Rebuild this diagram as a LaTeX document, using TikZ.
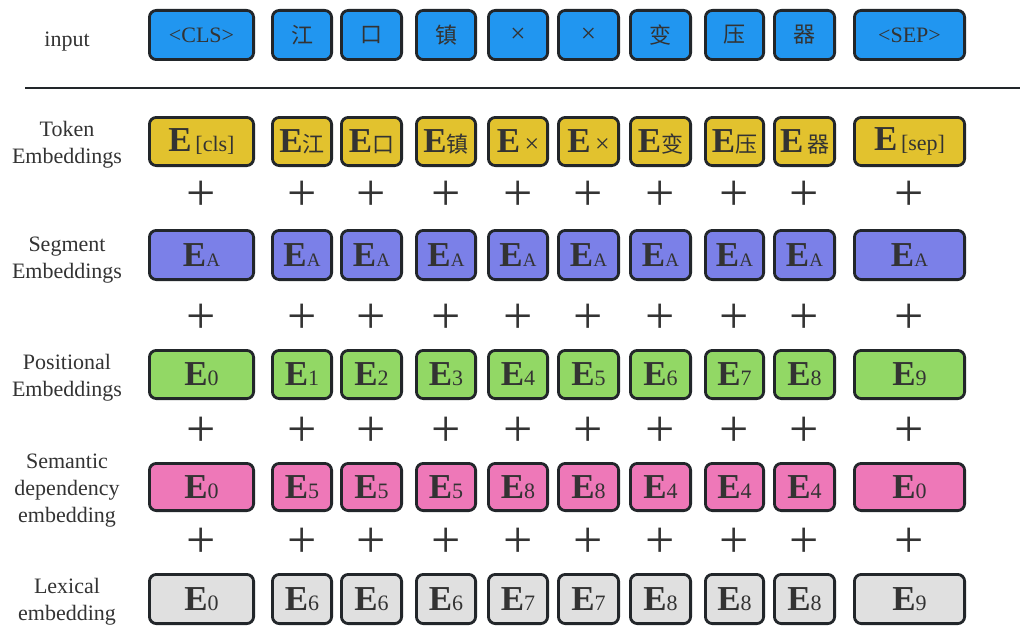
\documentclass[tikz,border=0pt]{standalone}
\usepackage{fontspec}
\setmainfont{Liberation Serif}
\newfontfamily\cjk{Noto Sans CJK SC}
\definecolor{cblue}{HTML}{2196F0}
\definecolor{cyellow}{HTML}{E2C22E}
\definecolor{cpurple}{HTML}{7B80E8}
\definecolor{cgreen}{HTML}{92D865}
\definecolor{cpink}{HTML}{EE78B8}
\definecolor{cgray}{HTML}{E0E0E0}
\definecolor{cborder}{HTML}{22262A}
\definecolor{ctext}{HTML}{333333}
\newcommand{\Ecell}[2][22]{{\fontsize{35}{35}\selectfont\textbf{E}}{\fontsize{#1}{#1}\selectfont #2}}
\begin{document}
\begin{tikzpicture}[x=1pt,y=-1pt,
  box/.style={draw=cborder, line width=2.8pt, rounded corners=7pt, inner sep=0pt, text=ctext, font=\fontsize{22}{22}\selectfont},
  rowlabel/.style={align=center, text=ctext, font=\fontsize{22}{27}\selectfont},
  plussign/.style={text=ctext, inner sep=0pt, font=\fontsize{52}{52}\selectfont}]
\useasboundingbox (0,0) rectangle (1022,626);
% input row
\foreach \a/\b/\i/\t in {148/255/1/{<CLS>},271/333/2/{\cjk 江},340/403/3/{\cjk 口},415/477/4/{\cjk 镇},487/549/5/{\fontsize{27}{27}\selectfont ×},557/620/6/{\fontsize{27}{27}\selectfont ×},629/692/7/{\cjk 变},704/765/8/{\cjk 压},773/836/9/{\cjk 器},853/966/10/{<SEP>}}
  \node[box, fill=cblue, minimum width={\b-\a-2.8}, minimum height=49.2pt] (in\i) at ({(\a+\b)/2},35) {\t};
% token row
\foreach \a/\b/\i/\t in {148/255/1/{\Ecell{\,[cls]}},271/333/2/{\Ecell{\cjk 江}},340/403/3/{\Ecell{\cjk 口}},415/477/4/{\Ecell{\cjk 镇}},487/549/5/{\Ecell[26]{\,×}},557/620/6/{\Ecell[26]{\,×}},629/692/7/{\Ecell{\cjk 变}},704/765/8/{\Ecell{\cjk 压}},773/836/9/{\Ecell{\,\cjk 器}},853/966/10/{\Ecell{\,[sep]}}}
  \node[box, fill=cyellow, minimum width={\b-\a-2.8}, minimum height=48.2pt] (tok\i) at ({(\a+\b)/2},141.5) {\t};
% segment row
\foreach \a/\b/\i in {148/255/1,271/333/2,340/403/3,415/477/4,487/549/5,557/620/6,629/692/7,704/765/8,773/836/9,853/966/10}
  \node[box, fill=cpurple, minimum width={\b-\a-2.8}, minimum height=49.2pt] (seg\i) at ({(\a+\b)/2},255) {\Ecell[19]{A}};
% positional row
\foreach \a/\b/\i/\t in {148/255/1/0,271/333/2/1,340/403/3/2,415/477/4/3,487/549/5/4,557/620/6/5,629/692/7/6,704/765/8/7,773/836/9/8,853/966/10/9}
  \node[box, fill=cgreen, minimum width={\b-\a-2.8}, minimum height=48.2pt] (pos\i) at ({(\a+\b)/2},374.5) {\Ecell{\t}};
% semantic row
\foreach \a/\b/\i/\t in {148/255/1/0,271/333/2/5,340/403/3/5,415/477/4/5,487/549/5/8,557/620/6/8,629/692/7/4,704/765/8/4,773/836/9/4,853/966/10/0}
  \node[box, fill=cpink, minimum width={\b-\a-2.8}, minimum height=47.2pt] (sem\i) at ({(\a+\b)/2},487) {\Ecell{\t}};
% lexical row
\foreach \a/\b/\i/\t in {148/255/1/0,271/333/2/6,340/403/3/6,415/477/4/6,487/549/5/7,557/620/6/7,629/692/7/8,704/765/8/8,773/836/9/8,853/966/10/9}
  \node[box, fill=cgray, minimum width={\b-\a-2.8}, minimum height=49.2pt] (lex\i) at ({(\a+\b)/2},599) {\Ecell{\t}};
% plus signs
\foreach \a/\b/\i in {148/255/1,271/333/2,340/403/3,415/477/4,487/549/5,557/620/6,629/692/7,704/765/8,773/836/9,853/966/10}{
  \node[plussign] (pa\i) at ({(\a+\b)/2},196) {+};
  \node[plussign] (pb\i) at ({(\a+\b)/2},319) {+};
  \node[plussign] (pc\i) at ({(\a+\b)/2},432) {+};
  \node[plussign] (pd\i) at ({(\a+\b)/2},543) {+};
}
% separator line
\coordinate (l1) at (25,88);
\coordinate (l2) at (1020,88);
\draw[line width=2.2pt, draw=cborder] (l1) -- (l2);
% row labels
\node[rowlabel] (lin) at (67,42) {input};
\node[rowlabel] (ltok) at (67,145) {Token\\Embeddings};
\node[rowlabel] (lseg) at (67,260) {Segment\\Embeddings};
\node[rowlabel] (lpos) at (67,378) {Positional\\Embeddings};
\node[rowlabel] (lsem) at (67,491) {Semantic\\dependency\\embedding};
\node[rowlabel] (llex) at (67,602) {Lexical\\embedding};
\end{tikzpicture}
\end{document}
